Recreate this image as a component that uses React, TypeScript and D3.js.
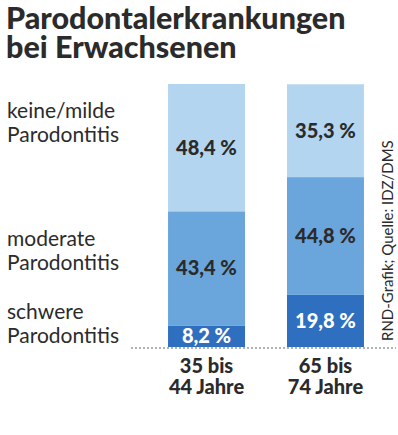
import React from "react";
import * as d3 from "d3";

const categories = [["35 bis", "44 Jahre"], ["65 bis", "74 Jahre"]];
const severities = ["schwer", "moderat", "keine"];
const severityLabels = [
  ["schwere", "Parodontitis"],
  ["moderate", "Parodontitis"],
  ["keine/milde", "Parodontitis"],
];
const schwer = [8.2, 19.8];
const moderat = [43.4, 44.8];
const keine = [48.4, 35.3];

const colors = ["#2f6fbf", "#6aa6dc", "#b4d5f0"];
const textColor = "#2b2b2b";
const font = "Lato, 'Open Sans', sans-serif";

export default function App() {
  const width = 398;
  const height = 435;
  const top = 84;
  const bottom = 347;

  const rows = categories.map((c, i) => ({
    key: i,
    schwer: schwer[i],
    moderat: moderat[i],
    keine: keine[i],
  }));
  const stack = d3.stack<any>().keys(severities)(rows);

  const x = d3.scaleBand().domain(["0", "1"]).range([149, 383]).paddingInner(0.353).paddingOuter(0.16);
  const y = d3.scaleLinear().domain([0, 100]).range([bottom, top]);

  const fmt = (v: number) => v.toFixed(1).replace(".", ",") + " %";

  const labelY = [319, 246, 118];

  return (
    <svg width={width} height={height} style={{ position: "absolute", left: 0, top: 0 }}>
      <rect width={width} height={height} fill="#fff" />
      <text fontFamily={font} fontWeight={900} fontSize={30.5} fill={textColor}>
        <tspan x={6} y={29}>Parodontalerkrankungen</tspan>
        <tspan x={6} y={58}>bei Erwachsenen</tspan>
      </text>

      {stack.map((layer, li) =>
        layer.map((d, i) => (
          <rect
            key={`${li}-${i}`}
            x={x(String(i))}
            width={x.bandwidth()}
            y={y(d[1])}
            height={y(d[0]) - y(d[1])}
            fill={colors[li]}
          />
        ))
      )}

      {stack.map((layer, li) =>
        layer.map((d, i) => {
          const h = y(d[0]) - y(d[1]);
          const cy = h < 30 ? y(d[0]) - 4 : (y(d[0]) + y(d[1])) / 2 + 7;
          return (
            <text
              key={`t${li}-${i}`}
              x={x(String(i))! + x.bandwidth() / 2}
              y={cy}
              textAnchor="middle"
              fontFamily={font}
              fontWeight={900}
              fontSize={20}
              fill={li === 0 ? "#fff" : textColor}
            >
              {fmt(d[1] - d[0])}
            </text>
          );
        })
      )}

      <line x1={131} x2={396} y1={bottom + 1} y2={bottom + 1} stroke="#666" strokeWidth={1} strokeDasharray="2,2" />

      {severityLabels.map((lines, i) => (
        <text key={i} fontFamily={font} fontSize={21} fill={textColor}>
          <tspan x={7} y={labelY[i]}>{lines[0]}</tspan>
          <tspan x={7} dy={24}>{lines[1]}</tspan>
        </text>
      ))}

      {categories.map((lines, i) => (
        <text
          key={i}
          textAnchor="middle"
          fontFamily={font}
          fontWeight={900}
          fontSize={20}
          fill={textColor}
        >
          <tspan x={x(String(i))! + x.bandwidth() / 2} y={373}>{lines[0]}</tspan>
          <tspan x={x(String(i))! + x.bandwidth() / 2} dy={21}>{lines[1]}</tspan>
        </text>
      ))}

      <text
        transform="translate(393,341) rotate(-90)"
        fontFamily={font}
        fontSize={15}
        fill={textColor}
      >
        RND-Grafik; Quelle: IDZ/DMS
      </text>
    </svg>
  );
}
